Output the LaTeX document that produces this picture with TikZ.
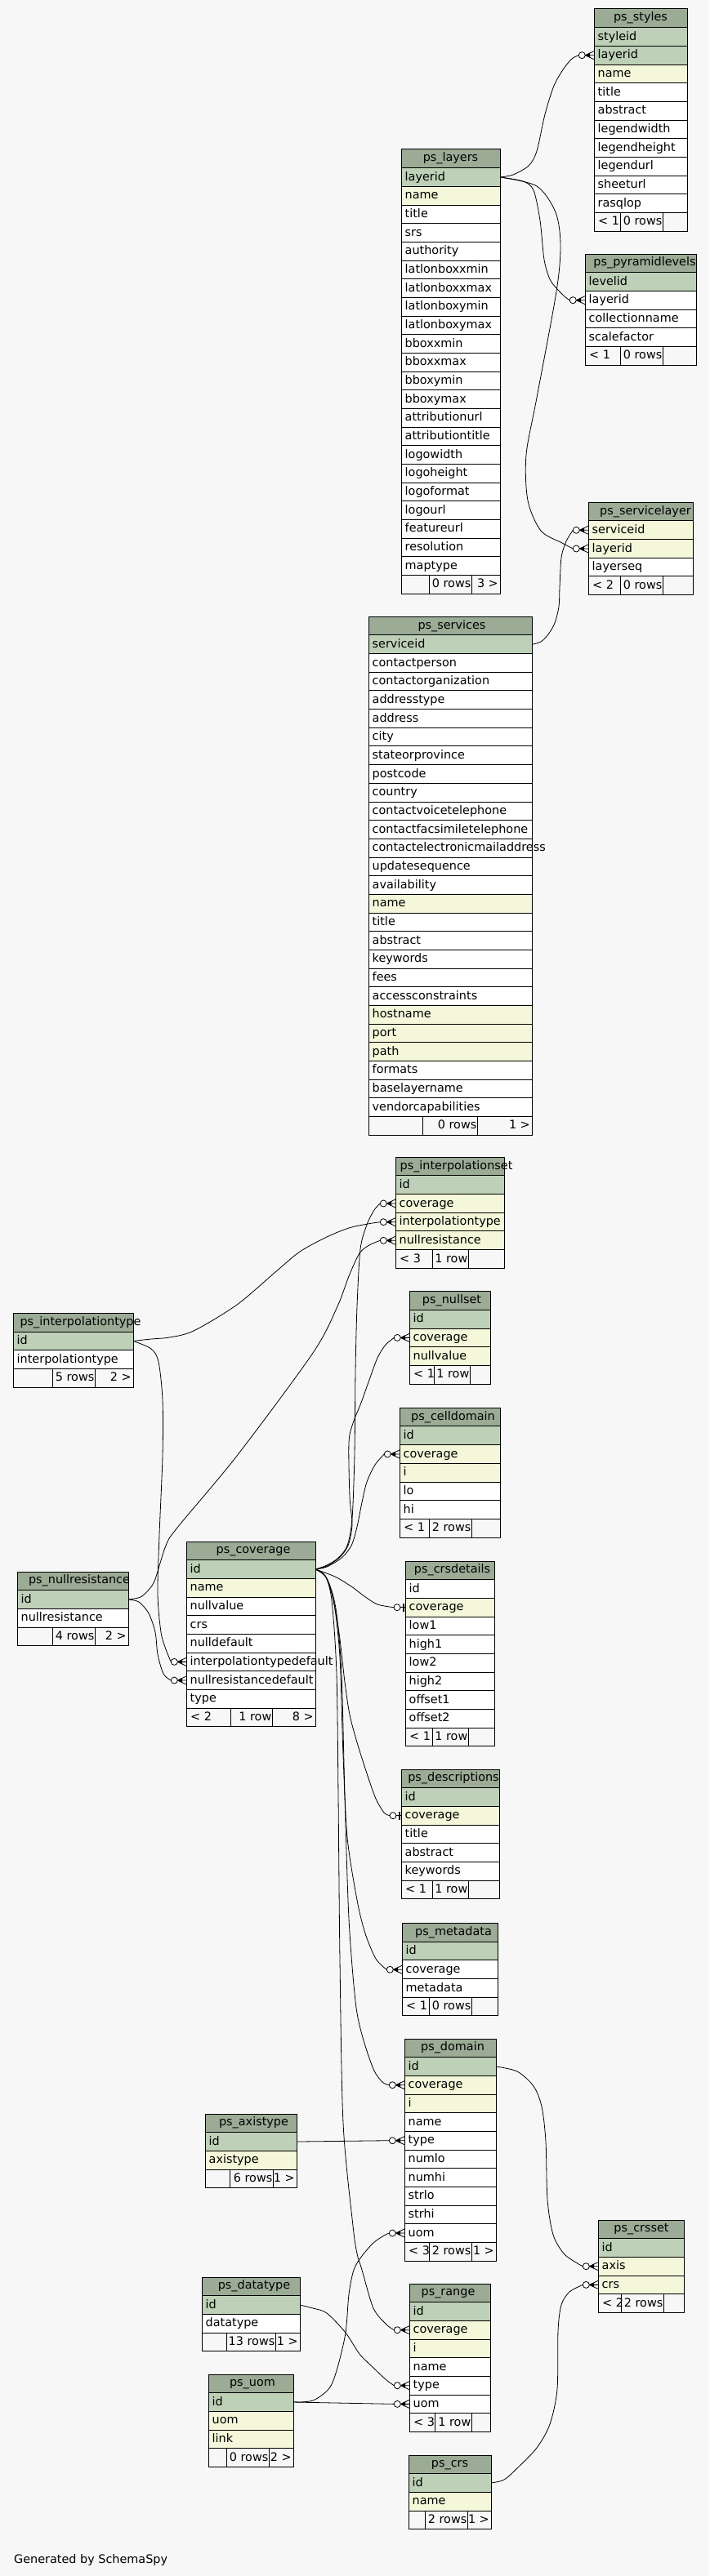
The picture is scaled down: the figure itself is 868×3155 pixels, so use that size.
\documentclass[tikz,border=0pt]{standalone}
\usepackage{fontspec}
\setmainfont{DejaVu Sans}
\definecolor{bgc}{HTML}{F7F7F7}
\definecolor{hdc}{HTML}{9BAB96}
\definecolor{pkc}{HTML}{BED1B8}
\definecolor{ixc}{HTML}{F4F7DA}
\newcommand\tabfont{\fontsize{14.4}{17}\selectfont}
\def\rh{22.67}
\tikzset{
  cell/.style={draw=black, line width=1pt, anchor=north west, minimum height=22.67pt, inner sep=0pt, outer sep=0pt},
  celltext/.style={anchor=base west, inner sep=0pt, font=\tabfont},
  fkline/.style={line width=0.8pt, draw=black},
}
\newcommand\dbtable[7]{%
  \pgfmathsetmacro\tw{#3-#2}%
  \pgfmathsetmacro\xc{(#2+#3)/2+#6}%
  \node[cell, fill=hdc, minimum width=\tw pt] (#1) at (#2,#4) {};
  \node[celltext, anchor=base] (#1-t) at (\xc,#4+14.7) {#5};
  \foreach \txt/\kind [count=\n] in {#7} {%
    \node[cell, fill=\kind, minimum width=\tw pt] (#1-\txt) at (#2,#4+\n*\rh) {};
    \node[celltext] (#1-\txt-t) at (#2+4.5,#4+\n*\rh+15.5) {\txt};
    \xdef\lastn{\n}%
  }%
}
\newcommand\dbfoot[9]{%
  \pgfmathsetmacro\tw{#3-#2}%
  \pgfmathsetmacro\fy{#4+(\lastn+1)*\rh}%
  \node[cell, fill=bgc, minimum width=\tw pt] (#1-foot) at (#2,\fy) {};
  \draw[line width=1pt] (#5,\fy) -- (#5,\fy+\rh) (#6,\fy) -- (#6,\fy+\rh);
  \node[celltext] (#1-f1) at (#2+5,\fy+15.5) {#7};
  \node[celltext, anchor=base east] (#1-f2) at (#6-0.5,\fy+15.5) {#8};
  \node[celltext, anchor=base east] (#1-f3) at (#3-2,\fy+15.5) {#9};
}
\newcommand\fkcrow[3]{%
  \draw[fkline] plot[smooth, tension=0.5] coordinates {(#1.east) #2 ([xshift=-18.7pt]#3.west)};
  \draw[fkline, fill=white] ([xshift=-14.7pt]#3.west) circle[radius=4pt];
  \draw[fkline] ([xshift=-10.7pt]#3.west) -- ([yshift=5pt]#3.west)
                ([xshift=-10.7pt]#3.west) -- (#3.west)
                ([xshift=-10.7pt]#3.west) -- ([yshift=-5pt]#3.west);
  \fill ([xshift=-10.7pt]#3.west) -- ([xshift=-5pt,yshift=3pt]#3.west) -- ([xshift=-5pt,yshift=-3pt]#3.west) -- cycle;
}
\newcommand\fktee[3]{%
  \draw[fkline] plot[smooth, tension=0.5] coordinates {(#1.east) #2 ([xshift=-14pt]#3.west)};
  \draw[fkline, fill=white] ([xshift=-10pt]#3.west) circle[radius=4pt];
  \draw[fkline] ([xshift=-6pt]#3.west) -- (#3.west);
  \fill ([xshift=-3.5pt,yshift=-5pt]#3.west) rectangle ([xshift=-1pt,yshift=5pt]#3.west);
}
\begin{document}
\begin{tikzpicture}[x=1pt,y=-1pt]
\fill[bgc] (0,0) rectangle (868,3155);
\useasboundingbox (0,0) rectangle (868,3155);

\dbtable{sty}{727}{841}{11}{ps\_styles}{0}{styleid/pkc,layerid/pkc,name/ixc,title/white,abstract/white,legendwidth/white,legendheight/white,legendurl/white,sheeturl/white,rasqlop/white}
\dbfoot{sty}{727}{841}{11}{759}{811}{< 1}{0 rows}{}

\dbtable{lay}{491}{612}{183}{ps\_layers}{0}{layerid/pkc,name/ixc,title/white,srs/white,authority/white,latlonboxxmin/white,latlonboxxmax/white,latlonboxymin/white,latlonboxymax/white,bboxxmin/white,bboxxmax/white,bboxymin/white,bboxymax/white,attributionurl/white,attributiontitle/white,logowidth/white,logoheight/white,logoformat/white,logourl/white,featureurl/white,resolution/white,maptype/white}
\dbfoot{lay}{491}{612}{183}{525}{577}{}{0 rows}{3 >}

\dbtable{pyr}{716}{852}{311}{ps\_pyramidlevels}{5}{levelid/pkc,layerid/white,collectionname/white,scalefactor/white}
\dbfoot{pyr}{716}{852}{311}{759}{811}{< 1}{0 rows}{}

\dbtable{svl}{720}{848}{615.3}{ps\_servicelayer}{6}{serviceid/ixc,layerid/ixc,layerseq/white}
\dbfoot{svl}{720}{848}{615.3}{759}{811}{< 2}{0 rows}{}

\dbtable{svc}{451}{651}{755.3}{ps\_services}{2}{serviceid/pkc,contactperson/white,contactorganization/white,addresstype/white,address/white,city/white,stateorprovince/white,postcode/white,country/white,contactvoicetelephone/white,contactfacsimiletelephone/white,contactelectronicmailaddress/white,updatesequence/white,availability/white,name/ixc,title/white,abstract/white,keywords/white,fees/white,accessconstraints/white,hostname/ixc,port/ixc,path/ixc,formats/white,baselayername/white,vendorcapabilities/white}
\dbfoot{svc}{451}{651}{755.3}{517}{584}{}{0 rows}{1 >}

\dbtable{iset}{484}{617}{1417.3}{ps\_interpolationset}{8}{id/pkc,coverage/ixc,interpolationtype/ixc,nullresistance/ixc}
\dbfoot{iset}{484}{617}{1417.3}{529}{573}{< 3}{1 row}{}

\dbtable{nset}{501}{600}{1581.7}{ps\_nullset}{2.5}{id/pkc,coverage/ixc,nullvalue/ixc}
\dbfoot{nset}{501}{600}{1581.7}{531}{575}{< 1}{1 row}{}

\dbtable{cell}{489}{612}{1724.3}{ps\_celldomain}{4}{id/pkc,coverage/ixc,i/ixc,lo/white,hi/white}
\dbfoot{cell}{489}{612}{1724.3}{525}{577}{< 1}{2 rows}{}

\dbtable{crsd}{496}{605}{1912}{ps\_crsdetails}{3}{id/white,coverage/ixc,low1/white,high1/white,low2/white,high2/white,offset1/white,offset2/white}
\dbfoot{crsd}{496}{605}{1912}{529}{573}{< 1}{1 row}{}

\dbtable{desc}{491}{611}{2167}{ps\_descriptions}{4}{id/pkc,coverage/ixc,title/white,abstract/white,keywords/white}
\dbfoot{desc}{491}{611}{2167}{529}{573}{< 1}{1 row}{}

\dbtable{meta}{492}{609}{2355.6}{ps\_metadata}{4.5}{id/pkc,coverage/white,metadata/white}
\dbfoot{meta}{492}{609}{2355.6}{525}{577}{< 1}{0 rows}{}

\dbtable{dom}{495}{607}{2497}{ps\_domain}{3}{id/pkc,coverage/ixc,i/ixc,name/white,type/white,numlo/white,numhi/white,strlo/white,strhi/white,uom/white}
\dbfoot{dom}{495}{607}{2497}{525}{577}{< 3}{2 rows}{1 >}

\dbtable{rng}{501}{600}{2797}{ps\_range}{-2}{id/pkc,coverage/ixc,i/ixc,name/white,type/white,uom/white}
\dbfoot{rng}{501}{600}{2797}{532}{577}{< 3}{1 row}{}

\dbtable{crs}{500}{601}{3007}{ps\_crs}{0}{id/pkc,name/ixc}
\dbfoot{crs}{500}{601}{3007}{520}{572}{}{2 rows}{1 >}

\dbtable{crss}{732}{837}{2719}{ps\_crsset}{0.5}{id/pkc,axis/ixc,crs/ixc}
\dbfoot{crss}{732}{837}{2719}{760}{812}{< 2}{2 rows}{}

\dbtable{cov}{228}{386}{1888}{ps\_coverage}{3}{id/pkc,name/ixc,nullvalue/white,crs/white,nulldefault/white,interpolationtypedefault/white,nullresistancedefault/white,type/white}
\dbfoot{cov}{228}{386}{1888}{282}{333}{< 2}{1 row}{8 >}

\dbtable{itype}{16}{163}{1608.4}{ps\_interpolationtype}{9}{id/pkc,interpolationtype/white}
\dbfoot{itype}{16}{163}{1608.4}{64}{116}{}{5 rows}{2 >}

\dbtable{nres}{21}{157}{1925}{ps\_nullresistance}{8}{id/pkc,nullresistance/white}
\dbfoot{nres}{21}{157}{1925}{64}{116}{}{4 rows}{2 >}

\dbtable{axis}{251}{363}{2589}{ps\_axistype}{3.5}{id/pkc,axistype/ixc}
\dbfoot{axis}{251}{363}{2589}{281}{334}{}{6 rows}{1 >}

\dbtable{dtype}{247}{367}{2789}{ps\_datatype}{4}{id/pkc,datatype/white}
\dbfoot{dtype}{247}{367}{2789}{277}{337}{}{13 rows}{1 >}

\dbtable{uom}{255}{359}{2908}{ps\_uom}{2}{id/pkc,uom/ixc,link/ixc}
\dbfoot{uom}{255}{359}{2908}{277}{329}{}{0 rows}{2 >}

\node[celltext] (gen) at (17,3139) {Generated by SchemaSpy};

% connectors
\fkcrow{lay-layerid}{(628,214) (647,203) (657,185) (667,140) (678,105) (690,84) (700,72)}{sty-layerid}
\fkcrow{lay-layerid}{(640,222) (653,233) (661,270) (666,318) (673,342) (682,354) (692,364)}{pyr-layerid}
\fkcrow{lay-layerid}{(657,228) (680,260) (686,300) (681,357) (657,487) (644,557) (646,613) (662,650) (688,665)}{svl-layerid}
\fkcrow{svc-serviceid}{(662,786) (671,777) (679,763) (684,743) (685,720) (687,683) (693,663)}{svl-serviceid}

\fkcrow{cov-id}{(400,1917) (414,1908) (425,1893) (431,1860) (434,1780) (435,1680) (437,1600) (441,1530) (449,1500) (458,1482)}{iset-coverage}
\fkcrow{itype-id}{(185,1640) (207,1638) (237,1630) (290,1598) (337,1558) (367,1533) (400,1515) (427,1504) (450,1499)}{iset-interpolationtype}
\fkcrow{nres-id}{(172,1956) (183,1946) (190,1934) (203,1893) (217,1871) (290,1783) (383,1657) (413,1600) (427,1563) (440,1535) (452,1525)}{iset-nullresistance}
\fkcrow{cov-id}{(400,1918) (415,1908) (426,1893) (431,1867) (428,1833) (427,1767) (432,1743) (442,1718) (452,1690) (462,1663) (472,1647)}{nset-coverage}
\fkcrow{cov-id}{(400,1919) (418,1908) (430,1893) (437,1870) (443,1840) (449,1815) (459,1794)}{cell-coverage}
\fktee{cov-id}{(410,1931) (430,1943) (446,1955) (462,1965)}{crsd-coverage}
\fktee{cov-id}{(398,1930) (407,1955) (415,2000) (422,2060) (428,2100) (437,2134) (450,2175) (460,2203) (470,2220)}{desc-coverage}
\fkcrow{cov-id}{(399,1932) (409,1965) (416,2030) (420,2150) (425,2250) (437,2327) (447,2368) (460,2399)}{meta-coverage}
\fkcrow{cov-id}{(400,1933) (411,1970) (418,2050) (422,2200) (427,2350) (435,2451) (443,2492) (457,2534) (468,2550)}{dom-coverage}
\fkcrow{cov-id}{(398,1930) (406,1960) (412,2050) (414,2200) (416,2400) (420,2600) (432,2726) (437,2760) (443,2780) (457,2827) (473,2847)}{rng-coverage}
\fkcrow{itype-id}{(185,1652) (194,1668) (199,1715) (199,1783) (195,1880) (193,1952) (197,1999) (203,2020)}{cov-interpolationtypedefault}
\fkcrow{nres-id}{(170,1962) (182,1976) (190,1999) (193,2026) (200,2050)}{cov-nullresistancedefault}
\fkcrow{axis-id}{}{dom-type}
\fkcrow{dtype-id}{(383,2827) (400,2833) (423,2857) (440,2883) (457,2900) (473,2915)}{rng-type}
\fkcrow{uom-id}{}{rng-uom}
\fkcrow{uom-id}{(383,2940) (403,2925) (413,2900) (423,2857) (427,2810) (433,2780) (443,2763) (457,2747) (470,2738)}{dom-uom}
\fkcrow{dom-id}{(633,2537) (653,2555) (663,2580) (668,2623) (670,2694) (677,2737) (690,2760) (705,2771)}{crss-axis}
\fkcrow{crs-id}{(617,3037) (633,3023) (657,2998) (673,2969) (682,2926) (683,2855) (687,2823) (697,2807)}{crss-crs}
\end{tikzpicture}
\end{document}
